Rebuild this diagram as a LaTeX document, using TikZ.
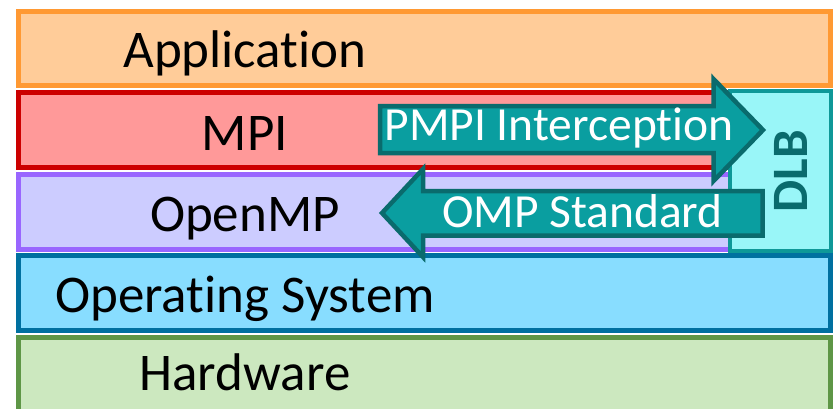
\documentclass[tikz,border=0pt]{standalone}
\usepackage{fontspec}
\setmainfont{Carlito}[Ligatures=NoCommon]
\definecolor{appfill}{HTML}{FFCC99}
\definecolor{appline}{HTML}{FF9933}
\definecolor{mpifill}{HTML}{FF9999}
\definecolor{mpiline}{HTML}{CC0000}
\definecolor{ompfill}{HTML}{CCCCFF}
\definecolor{ompline}{HTML}{9966FF}
\definecolor{osfill}{HTML}{88DDFF}
\definecolor{osline}{HTML}{0070A0}
\definecolor{hwfill}{HTML}{CCE8BF}
\definecolor{hwline}{HTML}{5E9646}
\definecolor{dlbfill}{HTML}{99F6F8}
\definecolor{dlbline}{HTML}{0E9898}
\definecolor{arrfill}{HTML}{0A9EA0}
\definecolor{arrline}{HTML}{0A6B6D}
\tikzset{
  layer/.style={line width=5pt, line join=miter},
  layerlabel/.style={anchor=base, inner sep=0pt, font=\fontsize{53}{60}\selectfont},
  fatarrow/.style={fill=arrfill, draw=arrline, line width=4.5pt, line join=miter},
  arrowlabel/.style={anchor=base, inner sep=0pt, text=white, font=\fontsize{47.5}{54}\selectfont},
}
\begin{document}
\begin{tikzpicture}[x=1pt, y=-1pt]
\useasboundingbox (0,0) rectangle (834,408);

% software stack layers
\draw[layer, fill=appfill, draw=appline] (18.5,11.5) rectangle (830.5,85.5);
\draw[layer, fill=mpifill, draw=mpiline] (18.5,92.5) rectangle (830.5,167.5);
\draw[layer, fill=ompfill, draw=ompline] (18.5,174.5) rectangle (830.5,249.5);
\draw[layer, fill=osfill, draw=osline] (18.5,255.5) rectangle (830.5,330.5);
\draw[layer, fill=hwfill, draw=hwline] (18.5,337.5) rectangle (830.5,420);

% DLB block spanning MPI and OpenMP
\draw[line width=4.5pt, fill=dlbfill, draw=dlbline] (730,91) rectangle (831,251);

% interception arrow (towards DLB)
\draw[fatarrow] (380,106) -- (713.5,106) -- (713.5,79) -- (763,130)
  -- (713.5,181) -- (713.5,153) -- (380,153) -- cycle;
% standard arrow (from DLB towards OpenMP)
\draw[fatarrow] (762.5,191) -- (423,191) -- (423,169) -- (382,213)
  -- (423,257) -- (423,235.5) -- (762.5,235.5) -- cycle;

% labels
\node[layerlabel] (app) at (245,67) {Application};
\node[layerlabel] (mpi) at (245,150) {MPI};
\node[layerlabel] (omp) at (245,231) {OpenMP};
\node[layerlabel] (os) at (245,312) {Operating System};
\node[layerlabel] (hw) at (245,390) {Hardware};
\node[arrowlabel] (pmpi) at (559,140) {PMPI Interception};
\node[arrowlabel] (std) at (582.5,227) {OMP Standard};
\node[rotate=90, inner sep=0pt, text=arrline, font=\fontsize{51}{58}\selectfont\bfseries] (dlb) at (791,171) {DLB};
\end{tikzpicture}
\end{document}
